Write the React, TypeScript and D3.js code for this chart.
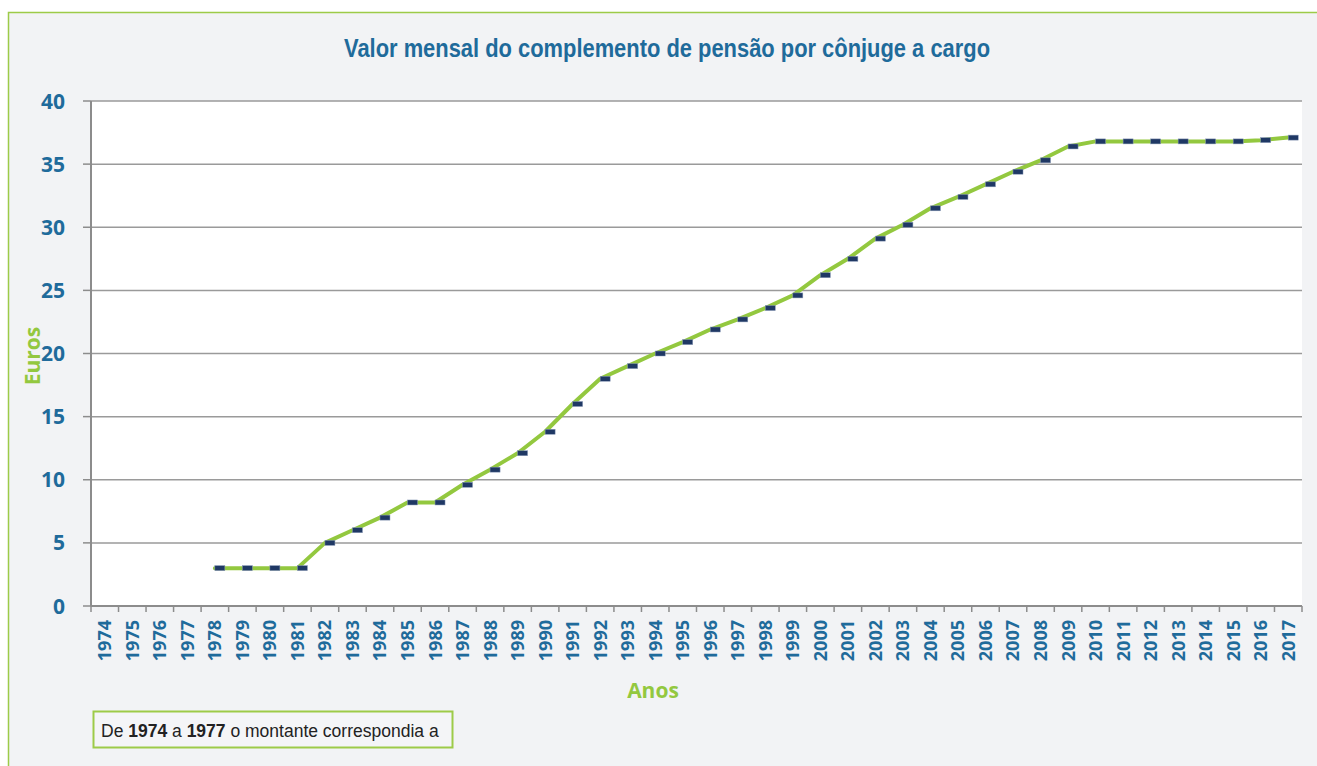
import React from 'react';
import * as d3 from 'd3';

const years = [
  '1974', '1975', '1976', '1977', '1978', '1979', '1980', '1981', '1982', '1983', '1984',
  '1985', '1986', '1987', '1988', '1989', '1990', '1991', '1992', '1993', '1994', '1995',
  '1996', '1997', '1998', '1999', '2000', '2001', '2002', '2003', '2004', '2005', '2006',
  '2007', '2008', '2009', '2010', '2011', '2012', '2013', '2014', '2015', '2016', '2017'
];

// euros per month, no value shown for 1974-1977
const values: (number | null)[] = [
  null, null, null, null, 3, 3, 3, 3, 5, 6, 7,
  8.2, 8.2, 9.6, 10.8, 12.1, 13.8, 16.0, 18.0, 19.0, 20.0, 20.9,
  21.9, 22.7, 23.6, 24.6, 26.2, 27.5, 29.1, 30.2, 31.5, 32.4, 33.4,
  34.4, 35.3, 36.4, 36.8, 36.8, 36.8, 36.8, 36.8, 36.8, 36.9, 37.1
];

const yTicks = [0, 5, 10, 15, 20, 25, 30, 35, 40];

const title = 'Valor mensal do complemento de pensão por cônjuge a cargo';

export default function App() {
  const width = 1317;
  const height = 766;
  const plot = { left: 91, right: 1302, top: 101, bottom: 606 };

  const blue = '#1f6b9b';
  const green = '#93c83f';
  const axisFont = '"Open Sans", "DejaVu Sans", sans-serif';

  const x = d3.scaleBand<string>().domain(years).range([plot.left, plot.right]).padding(0);
  const y = d3.scaleLinear().domain([0, 40]).range([plot.bottom, plot.top]);
  const cx = (yr: string) => (x(yr) as number) + x.bandwidth() / 2;

  const points = years.map((yr, i) => ({ yr, v: values[i] }));

  const line = d3.line<{ yr: string; v: number | null }>()
    .defined(d => d.v != null)
    .x(d => cx(d.yr))
    .y(d => y(d.v as number));

  return (
    <svg width={width} height={height} style={{ position: 'absolute', left: 0, top: 0 }}>
      <rect x={8.5} y={12.5} width={1340} height={800} fill="#f2f3f5" stroke="#9dcb48" strokeWidth={1.5} />

      {/* narrow bold title: squeeze to the reference width */}
      <text x={344} y={57} fill={blue} fontWeight="bold" fontSize={25}
        textLength={646} lengthAdjust="spacingAndGlyphs"
        fontFamily='"Liberation Sans Narrow", "Arial Narrow", "Liberation Sans", Arial, sans-serif'>
        {title}
      </text>

      <rect x={plot.left} y={plot.top} width={plot.right - plot.left} height={plot.bottom - plot.top} fill="#ffffff" />

      {yTicks.map(t => (
        <g key={t}>
          {t > 0 && (
            <line x1={plot.left} x2={plot.right} y1={y(t)} y2={y(t)} stroke="#9a9a9a" strokeWidth={1.5} />
          )}
          <line x1={plot.left - 8} x2={plot.left} y1={y(t)} y2={y(t)} stroke="#8c8c8c" strokeWidth={1.5} />
          <text x={65} y={y(t)} dy="0.36em" textAnchor="end" fill={blue} fontWeight="bold"
            fontSize={21} fontFamily={axisFont}>
            {t}
          </text>
        </g>
      ))}

      <line x1={plot.left} x2={plot.left} y1={plot.top} y2={plot.bottom} stroke="#8c8c8c" strokeWidth={2} />
      <line x1={plot.left} x2={plot.right} y1={plot.bottom} y2={plot.bottom} stroke="#8c8c8c" strokeWidth={2} />

      {years.map(yr => (
        <line key={'t' + yr} x1={(x(yr) as number) + x.bandwidth()} x2={(x(yr) as number) + x.bandwidth()}
          y1={plot.bottom} y2={plot.bottom + 6} stroke="#8c8c8c" strokeWidth={1.5} />
      ))}
      <line x1={plot.left} x2={plot.left} y1={plot.bottom} y2={plot.bottom + 6} stroke="#8c8c8c" strokeWidth={1.5} />

      {years.map(yr => (
        <text key={'l' + yr} transform={`translate(${cx(yr)},${plot.bottom + 14}) rotate(-90)`}
          dy="0.36em" textAnchor="end" fill={blue} fontWeight="bold" fontSize={18} fontFamily={axisFont}>
          {yr}
        </text>
      ))}

      <path d={line(points) || ''} fill="none" stroke={green} strokeWidth={4} strokeLinejoin="round" strokeLinecap="round" />

      {/* dash markers sit a little right of the line vertices, as in the source */}
      {points.filter(d => d.v != null).map(d => (
        <rect key={'m' + d.yr} x={cx(d.yr)} y={y(d.v as number) - 2.5} width={10} height={5}
          fill="#1f3864" stroke="#8a9ab8" strokeWidth={0.5} />
      ))}

      <text transform="translate(40,356) rotate(-90)" textAnchor="middle" fill={green} fontWeight="bold"
        fontSize={21} fontFamily={axisFont}>
        Euros
      </text>

      <text x={653} y={698} textAnchor="middle" fill={green} fontWeight="bold" fontSize={21} fontFamily={axisFont}>
        Anos
      </text>

      <rect x={93.5} y={711.5} width={359} height={36} fill="#f4f5f7" stroke="#9dcb48" strokeWidth={2} />
      <text x={101} y={737} fill="#222222" fontSize={17.5}
        fontFamily='"Liberation Sans", Arial, sans-serif'>
        De <tspan fontWeight="bold">1974</tspan> a <tspan fontWeight="bold">1977</tspan> o montante correspondia a
      </text>
    </svg>
  );
}
